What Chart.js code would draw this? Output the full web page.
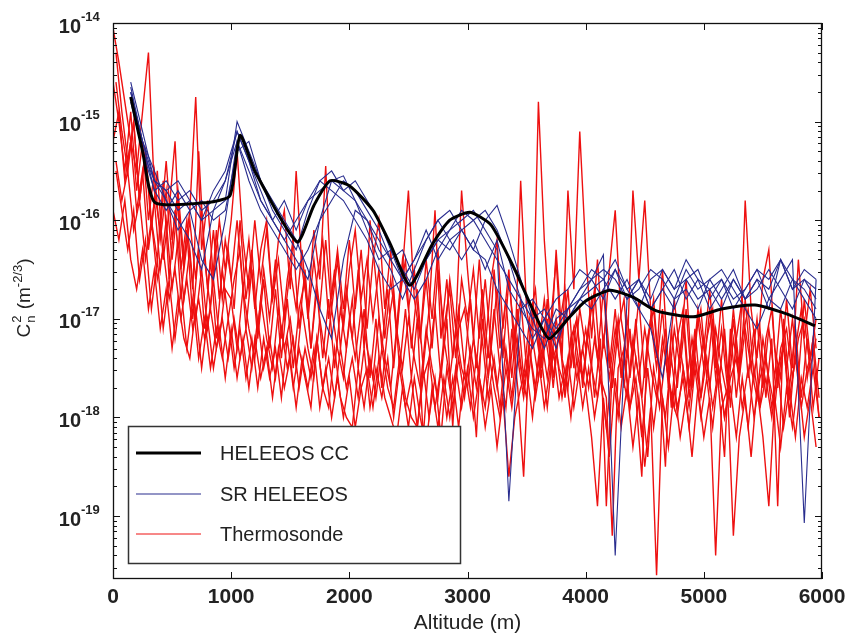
<!DOCTYPE html>
<html>
<head>
<meta charset="utf-8">
<script src="https://cdn.jsdelivr.net/npm/chart.js@4.4.1/dist/chart.umd.min.js"></script>
<style>
html, body { margin: 0; padding: 0; background: #fff; }
#wrap { width: 846px; height: 637px; }
</style>
</head>
<body>
<div id="wrap"><canvas id="cn2" width="846" height="637"></canvas></div>
<script>
// altitude grids (m)
var thermoAltA = [
  0,50,100,150,200,250,300,350,400,450,500,550,600,650,700,750,800,850,900,950,
  1000,1050,1100,1150,1200,1250,1300,1350,1400,1450,1500,1550,1600,1650,1700,1750,1800,1850,1900,1950,
  2000,2050,2100,2150,2200,2250,2300,2350,2400,2450,2500,2550,2600,2650,2700,2750,2800,2850,2900,2950,
  3000,3050,3100,3150,3200,3250,3300,3350,3400,3450,3500,3550,3600,3650,3700,3750,3800,3850,3900,3950,
  4000,4050,4100,4150,4200,4250,4300,4350,4400,4450,4500,4550,4600,4650,4700,4750,4800,4850,4900,4950,
  5000,5050,5100,5150,5200,5250,5300,5350,5400,5450,5500,5550,5600,5650,5700,5750,5800,5850,5900,5950
];
var thermoAltB = [
  25,75,125,175,225,275,325,375,425,475,525,575,625,675,725,775,825,875,925,975,
  1025,1075,1125,1175,1225,1275,1325,1375,1425,1475,1525,1575,1625,1675,1725,1775,1825,1875,1925,1975,
  2025,2075,2125,2175,2225,2275,2325,2375,2425,2475,2525,2575,2625,2675,2725,2775,2825,2875,2925,2975,
  3025,3075,3125,3175,3225,3275,3325,3375,3425,3475,3525,3575,3625,3675,3725,3775,3825,3875,3925,3975,
  4025,4075,4125,4175,4225,4275,4325,4375,4425,4475,4525,4575,4625,4675,4725,4775,4825,4875,4925,4975,
  5025,5075,5125,5175,5225,5275,5325,5375,5425,5475,5525,5575,5625,5675,5725,5775,5825,5875,5925,5975
];
var srAlt = [
  150,250,350,450,550,650,750,850,950,1050,
  1150,1250,1350,1450,1550,1650,1750,1850,1950,2050,
  2150,2250,2350,2450,2550,2650,2750,2850,2950,3050,
  3150,3250,3350,3450,3550,3650,3750,3850,3950,4050,
  4150,4250,4350,4450,4550,4650,4750,4850,4950,5050,
  5150,5250,5350,5450,5550,5650,5750,5850,5950
];
var ccAlt = [150,250,355,800,990,1075,1200,1557,1700,1836,2000,2200,2350,2513,2700,2850,3021,3200,3400,3550,3690,3850,4000,4206,4400,4600,4909,5150,5433,5700,5941];

// log10 of Cn2 (m^-2/3)
var ccLog = [-14.75,-15.3,-15.82,-15.82,-15.75,-15.14,-15.5,-16.22,-15.85,-15.6,-15.65,-15.9,-16.25,-16.66,-16.25,-16.0,-15.92,-16.05,-16.5,-16.9,-17.2,-17.0,-16.82,-16.71,-16.78,-16.92,-16.98,-16.9,-16.86,-16.95,-17.07];

var sr1 = [
  -14.6,-15.1,-15.6,-15.7,-15.9,-15.8,-16.0,-15.9,-15.8,-15.0,
  -15.3,-15.6,-15.9,-16.1,-16.3,-15.9,-15.6,-15.5,-15.7,-15.6,
  -15.8,-16.0,-16.3,-16.5,-16.7,-16.4,-16.2,-16.1,-16.0,-15.9,
  -16.1,-16.3,-18.85,-16.9,-16.8,-17.0,-17.2,-17.0,-16.8,-16.7,
  -16.6,-16.4,-16.7,-16.9,-16.6,-16.5,-16.7,-16.6,-16.8,-16.7,
  -16.6,-16.8,-16.7,-16.5,-16.6,-16.4,-16.7,-16.5,-16.6
];
var sr2 = [
  -14.7,-15.2,-15.5,-15.8,-16.0,-16.2,-16.5,-15.9,-15.6,-15.1,
  -15.4,-15.7,-16.0,-16.2,-16.4,-16.6,-16.0,-15.6,-15.7,-15.8,
  -16.0,-16.3,-16.5,-16.8,-16.5,-16.2,-16.0,-16.2,-16.1,-16.3,
  -16.0,-15.85,-16.2,-16.6,-17.0,-17.3,-17.0,-16.9,-16.7,-16.6,
  -16.35,-19.4,-16.8,-16.6,-16.9,-16.7,-16.5,-16.8,-16.6,-16.9,
  -16.7,-16.5,-16.8,-16.6,-16.9,-16.4,-16.7,-16.6,-16.8
];
var sr3 = [
  -14.65,-15.2,-15.7,-15.6,-15.8,-15.7,-15.9,-15.8,-15.6,-15.2,
  -15.5,-15.8,-16.0,-15.8,-16.1,-15.8,-15.7,-15.6,-15.55,-15.8,
  -16.1,-16.4,-16.3,-16.6,-16.4,-16.1,-16.4,-16.2,-16.4,-16.2,
  -16.5,-16.2,-16.7,-16.9,-17.1,-17.2,-16.9,-17.0,-16.8,-16.9,
  -16.7,-16.5,-16.8,-16.6,-16.9,-16.7,-16.9,-16.6,-16.5,-16.8,
  -16.6,-16.9,-16.7,-16.5,-16.8,-16.6,-16.4,-19.07,-16.6
];
var sr4 = [
  -14.8,-15.3,-15.7,-15.9,-15.7,-15.9,-15.8,-16.0,-15.9,-15.3,
  -15.2,-15.6,-15.8,-16.0,-16.2,-16.5,-16.9,-17.2,-16.4,-15.9,
  -16.0,-16.2,-16.4,-16.3,-16.6,-16.4,-16.2,-16.3,-16.1,-16.0,
  -15.9,-16.1,-16.4,-16.8,-17.2,-17.0,-17.3,-16.9,-16.7,-16.5,
  -16.6,-16.8,-16.6,-16.9,-17.1,-17.6,-16.8,-16.5,-16.7,-16.6,
  -16.8,-16.6,-16.8,-16.7,-16.5,-16.7,-16.9,-16.6,-16.7
];
var sr5 = [
  -14.7,-15.2,-15.6,-15.8,-16.1,-15.9,-16.4,-16.6,-16.0,-15.2,
  -15.6,-15.9,-16.1,-16.3,-16.5,-16.3,-16.0,-15.8,-15.6,-15.7,
  -15.9,-16.1,-16.4,-16.6,-16.8,-16.6,-16.3,-16.1,-15.9,-16.0,
  -16.2,-16.4,-16.6,-16.8,-17.0,-16.9,-17.1,-16.9,-16.8,-16.6,
  -16.5,-16.6,-16.8,-16.7,-16.5,-16.6,-16.8,-16.7,-16.9,-16.6,
  -16.5,-16.7,-16.9,-17.1,-16.8,-16.9,-16.6,-16.8,-17.0
];
var sr6 = [
  -14.75,-15.3,-15.6,-15.7,-15.6,-15.8,-16.0,-15.7,-15.5,-15.1,
  -15.4,-15.8,-16.0,-16.2,-16.0,-15.8,-15.6,-15.7,-15.8,-16.0,
  -16.2,-16.5,-16.7,-16.6,-16.4,-16.2,-16.0,-15.9,-16.1,-16.3,
  -16.4,-16.7,-16.9,-17.1,-17.3,-17.0,-16.8,-16.7,-16.5,-16.6,
  -16.8,-16.5,-16.7,-16.6,-16.8,-16.5,-16.7,-16.4,-16.6,-16.7,
  -16.9,-16.6,-16.8,-16.6,-16.7,-16.4,-16.6,-16.7,-16.9
];

// thermosonde profiles, odd ones on grid A, even ones on grid B
var thermo1 = [
  -14.05,-14.4,-14.8,-15.2,-15.5,-14.9,-14.3,-15.7,-16.1,-15.4,-16.2,-15.7,-16.4,-15.9,-14.75,-16.3,-15.8,-16.6,-16.0,-16.5,
  -16.0,-15.3,-16.2,-16.7,-16.0,-16.6,-16.1,-16.8,-16.2,-15.9,-16.7,-15.5,-16.5,-16.9,-16.1,-16.6,-15.45,-16.8,-16.3,-16.9,
  -16.2,-16.9,-16.3,-17.1,-16.4,-16.0,-16.9,-16.3,-17.2,-16.5,-15.7,-16.8,-17.2,-16.4,-17.0,-16.3,-17.3,-16.6,-17.1,-15.7,
  -16.5,-17.2,-16.4,-17.3,-16.6,-16.2,-17.1,-16.5,-17.4,-15.6,-16.9,-17.3,-14.8,-16.2,-17.1,-16.4,-17.4,-15.7,-16.7,-15.1,
  -16.3,-17.2,-16.4,-17.3,-16.5,-15.9,-17.0,-17.4,-15.7,-16.6,-15.8,-16.9,-17.4,-16.5,-17.5,-16.8,-17.4,-16.6,-17.6,-16.9,
  -17.3,-16.7,-17.5,-16.8,-17.6,-16.9,-17.5,-15.8,-16.9,-17.4,-16.6,-16.3,-17.3,-17.6,-16.8,-17.5,-16.4,-17.2,-16.7,-17.3
];
var thermo2 = [
  -14.3,-14.9,-15.4,-15.0,-15.8,-15.3,-16.1,-15.5,-16.4,-15.9,-15.2,-16.5,-16.0,-16.7,-15.3,-16.4,-16.9,-16.1,-16.8,-16.3,
  -16.9,-16.0,-16.8,-16.3,-17.1,-16.5,-17.0,-16.4,-17.2,-16.6,-16.2,-17.1,-16.5,-17.3,-16.6,-16.2,-17.0,-16.5,-17.3,-16.7,
  -17.2,-16.5,-17.3,-16.0,-16.6,-17.3,-16.7,-17.5,-16.8,-16.4,-17.3,-16.7,-17.5,-16.9,-15.9,-17.2,-16.6,-17.4,-16.9,-17.5,
  -16.8,-17.5,-16.7,-17.4,-16.5,-17.3,-16.8,-17.6,-16.9,-17.6,-17.0,-16.7,-17.5,-16.8,-17.6,-17.1,-16.7,-17.5,-17.0,-17.7,
  -17.1,-16.7,-17.5,-17.0,-17.7,-17.1,-16.8,-17.6,-17.0,-17.8,-17.2,-16.8,-17.6,-17.1,-17.9,-17.2,-16.9,-17.7,-17.1,-17.8,
  -17.2,-16.9,-17.7,-17.1,-17.9,-17.2,-16.8,-17.6,-17.1,-17.9,-17.2,-16.9,-17.7,-17.2,-18.0,-17.3,-16.9,-17.6,-17.2,-17.8
];
var thermo3 = [
  -15.9,-16.2,-15.8,-16.4,-16.7,-16.3,-16.9,-16.5,-17.1,-16.7,-17.3,-16.8,-17.2,-17.4,-16.9,-17.5,-17.0,-17.5,-17.1,-17.6,
  -17.1,-17.6,-17.2,-17.7,-17.2,-17.6,-17.3,-17.8,-17.3,-17.7,-17.4,-17.9,-17.4,-17.7,-17.3,-17.9,-17.5,-18.0,-17.6,-18.0,
  -17.6,-18.1,-17.7,-17.5,-17.9,-17.4,-17.8,-18.0,-18.2,-17.7,-18.1,-17.6,-18.0,-18.3,-17.7,-18.1,-17.6,-18.0,-17.5,-17.9,
  -17.5,-18.0,-17.6,-18.1,-17.7,-18.3,-17.8,-18.6,-18.0,-17.7,-17.5,-18.0,-17.4,-17.9,-17.5,-17.3,-17.8,-17.4,-17.9,-17.5,
  -17.7,-18.2,-18.9,-17.8,-18.4,-17.6,-18.1,-17.7,-18.3,-17.8,-18.5,-17.9,-19.6,-17.8,-18.3,-17.7,-18.2,-17.8,-18.4,-17.7,
  -18.2,-17.8,-19.4,-17.9,-17.7,-19.2,-18.2,-17.8,-18.4,-17.7,-18.2,-18.9,-17.8,-18.3,-17.7,-18.1,-17.6,-18.2,-17.8,-18.3
];
var thermo4 = [
  -15.5,-15.9,-16.3,-15.9,-16.6,-16.2,-16.9,-16.4,-17.1,-16.6,-17.2,-16.7,-17.3,-16.8,-17.4,-17.0,-17.5,-17.1,-17.4,-17.0,
  -17.5,-17.1,-17.6,-17.2,-17.7,-17.2,-17.6,-17.3,-17.8,-17.2,-17.7,-17.3,-17.6,-17.9,-17.2,-17.7,-17.9,-17.3,-17.8,-18.0,
  -18.1,-17.5,-17.9,-17.4,-17.8,-17.3,-17.7,-17.9,-17.4,-17.8,-18.0,-18.1,-17.6,-17.4,-17.9,-17.5,-18.0,-17.6,-18.1,-17.5,
  -17.9,-17.4,-17.8,-17.3,-17.7,-18.0,-17.5,-17.9,-17.4,-17.8,-17.3,-17.7,-17.2,-17.6,-17.1,-17.5,-17.7,-17.2,-17.6,-17.3,
  -17.7,-17.2,-17.6,-17.8,-19.2,-17.5,-17.3,-17.9,-17.4,-17.8,-18.4,-17.5,-17.9,-17.4,-17.8,-18.0,-17.5,-17.9,-17.4,-17.8,
  -17.4,-17.9,-17.5,-18.0,-17.6,-17.4,-17.9,-17.5,-18.0,-17.6,-17.4,-17.9,-17.5,-17.3,-17.8,-17.4,-17.9,-17.5,-17.3,-18.0
];
var thermo5 = [
  -15.2,-14.9,-15.6,-15.2,-15.9,-15.5,-16.3,-15.8,-16.5,-16.0,-16.7,-16.2,-16.8,-16.3,-17.0,-16.5,-17.1,-16.6,-17.2,-16.7,
  -16.8,-17.3,-16.7,-17.1,-17.4,-16.8,-17.2,-17.5,-16.9,-17.3,-17.0,-17.5,-16.9,-17.3,-17.6,-17.0,-17.4,-16.9,-17.3,-17.6,
  -17.0,-17.4,-16.9,-17.3,-17.6,-17.0,-17.4,-17.7,-17.1,-17.5,-17.0,-17.4,-17.7,-17.1,-17.5,-17.8,-17.2,-17.6,-17.1,-17.5,
  -17.7,-17.2,-17.6,-17.9,-17.3,-17.7,-17.2,-17.6,-17.1,-17.5,-17.8,-17.2,-17.6,-17.1,-17.5,-17.0,-17.4,-17.7,-17.1,-17.5,
  -17.1,-17.5,-17.8,-17.2,-17.6,-17.1,-17.5,-17.8,-17.2,-17.6,-17.1,-17.5,-17.8,-17.2,-17.6,-17.9,-17.3,-17.7,-17.2,-17.6,
  -17.2,-17.7,-17.1,-17.5,-17.8,-17.2,-17.6,-17.1,-17.5,-17.8,-17.2,-17.6,-17.9,-17.3,-17.1,-17.6,-17.2,-17.0,-17.5,-17.2
];
var thermo6 = [
  -14.6,-15.1,-15.5,-15.0,-15.8,-15.3,-16.0,-16.4,-15.6,-16.6,-15.9,-16.8,-16.1,-17.0,-16.3,-17.1,-16.4,-17.2,-16.5,-17.0,
  -16.6,-16.3,-17.1,-16.5,-17.2,-16.6,-17.3,-16.7,-17.4,-16.8,-17.5,-16.9,-16.6,-17.3,-16.7,-17.4,-16.8,-17.5,-16.9,-17.3,
  -16.8,-17.5,-16.9,-17.6,-17.0,-17.7,-17.1,-16.7,-17.5,-16.9,-17.6,-17.0,-18.2,-17.4,-16.9,-17.6,-17.0,-18.1,-17.1,-16.9,
  -17.4,-18.2,-17.0,-17.6,-16.9,-17.5,-17.9,-17.1,-17.7,-18.6,-17.2,-16.9,-17.6,-17.0,-17.7,-17.1,-17.8,-17.2,-17.0,-17.6,
  -17.1,-17.8,-17.2,-18.9,-17.5,-17.0,-17.7,-17.1,-17.8,-18.6,-17.2,-16.9,-17.6,-18.5,-17.1,-17.7,-17.0,-17.8,-17.2,-16.9,
  -17.6,-17.0,-17.7,-18.4,-17.1,-17.8,-17.2,-16.9,-17.6,-17.1,-17.8,-17.2,-18.9,-17.0,-17.7,-17.1,-17.8,-17.2,-17.9,-17.4
];
var thermo7 = [
  -14.6,-15.0,-15.5,-14.9,-15.7,-15.2,-16.0,-15.5,-16.2,-15.7,-16.4,-15.8,-16.5,-16.0,-16.6,-15.9,-16.7,-16.1,-16.8,-16.2,
  -16.6,-16.0,-16.7,-16.2,-16.9,-16.3,-16.0,-16.8,-16.4,-17.0,-16.5,-16.9,-16.3,-17.0,-16.4,-16.9,-16.2,-16.9,-16.4,-17.1,
  -16.5,-16.1,-16.8,-16.4,-17.0,-16.5,-17.2,-16.6,-17.1,-16.4,-16.9,-16.5,-17.2,-16.6,-17.3,-16.5,-17.1,-16.7,-17.4,-16.6,
  -17.0,-16.5,-17.2,-16.6,-17.3,-16.7,-17.4,-16.6,-17.2,-16.8,-17.5,-16.9,-17.3,-16.8,-17.4,-16.3,-17.2,-16.7,-17.5,-16.9,
  -17.3,-16.8,-17.4,-16.7,-17.5,-16.9,-17.6,-17.0,-17.4,-16.8,-17.6,-17.0,-17.5,-16.9,-17.7,-17.1,-17.5,-16.9,-17.7,-17.0,
  -17.5,-16.9,-17.6,-17.1,-17.7,-17.0,-17.6,-16.8,-17.5,-17.0,-17.7,-17.1,-17.6,-16.9,-17.5,-17.0,-17.6,-16.8,-17.4,-17.0
];
var thermo8 = [
  -15.4,-15.8,-15.5,-16.1,-15.8,-16.4,-16.0,-16.6,-16.3,-16.8,-16.5,-17.0,-16.6,-17.1,-16.8,-17.2,-16.9,-17.3,-17.0,-17.4,
  -17.0,-17.4,-17.1,-17.5,-17.0,-17.5,-17.2,-17.6,-17.1,-17.5,-17.2,-17.7,-17.3,-17.6,-17.2,-17.7,-17.4,-17.8,-17.3,-17.7,
  -17.4,-17.8,-17.3,-17.9,-17.5,-17.8,-17.4,-18.0,-17.5,-17.9,-17.6,-18.1,-17.5,-18.0,-17.6,-18.2,-17.5,-17.9,-17.4,-17.8,
  -17.3,-17.7,-17.2,-17.8,-17.4,-17.9,-17.3,-17.8,-17.2,-17.7,-17.3,-17.8,-17.4,-17.9,-17.3,-17.8,-17.5,-18.0,-17.4,-17.9,
  -17.5,-18.0,-17.6,-18.1,-17.5,-18.0,-17.4,-17.9,-17.6,-18.2,-17.5,-18.1,-17.6,-18.0,-17.4,-17.9,-17.6,-18.1,-17.5,-18.0,
  -17.6,-18.1,-17.5,-18.0,-17.7,-18.2,-17.6,-18.1,-17.5,-17.9,-17.6,-18.0,-17.5,-18.1,-17.7,-18.2,-17.6,-17.9,-17.5,-18.0
];

var xTickValues = [0, 1000, 2000, 3000, 4000, 5000, 6000];
var yTickExps = [-14, -15, -16, -17, -18, -19];
var legendNames = ['HELEEOS CC', 'SR HELEEOS', 'Thermosonde'];
var xTitle = 'Altitude (m)';

var RED = 'rgb(238,16,16)';
var BLUE = '#282c8e';
var BLACK = '#000000';

function toPoints(alts, logs) {
    var pts = [];
    for (var i = 0; i < alts.length; i++) {
        pts.push({x: alts[i], y: Math.pow(10, logs[i])});
    }
    return pts;
}

var datasets = [];
datasets.push({label: legendNames[0], data: toPoints(ccAlt, ccLog), borderColor: BLACK, borderWidth: 3, tension: 0.2, order: 0});
[sr1, sr2, sr3, sr4, sr5, sr6].forEach(function(s) {
    datasets.push({label: legendNames[1], data: toPoints(srAlt, s), borderColor: BLUE, borderWidth: 1.1, order: 1});
});
[thermo1, thermo2, thermo3, thermo4, thermo5, thermo6, thermo7, thermo8].forEach(function(s, k) {
    var alts = (k % 2 === 0) ? thermoAltA : thermoAltB;
    datasets.push({label: legendNames[2], data: toPoints(alts, s), borderColor: RED, borderWidth: 1.4, order: 2});
});

var sans = '"Liberation Sans", Arial, sans-serif';

// matlab-like box, inward ticks, tick labels, axis titles and legend
var matlabAxes = {
    id: 'matlabAxes',
    afterDatasetsDraw: function(chart) {
        var ctx = chart.ctx, a = chart.chartArea;
        var x = chart.scales.x, y = chart.scales.y;
        ctx.save();
        ctx.strokeStyle = '#111';
        ctx.lineWidth = 1.3;
        ctx.strokeRect(a.left + 0.5, a.top + 0.5, a.right - a.left - 1, a.bottom - a.top - 1);
        ctx.lineWidth = 1;
        ctx.beginPath();
        xTickValues.forEach(function(v) {
            var px = Math.round(x.getPixelForValue(v)) + 0.5;
            ctx.moveTo(px, a.bottom); ctx.lineTo(px, a.bottom - 7);
            ctx.moveTo(px, a.top); ctx.lineTo(px, a.top + 7);
        });
        for (var e = -20; e <= -14; e++) {
            for (var m = 1; m <= 9; m++) {
                var v = m * Math.pow(10, e);
                if (v < y.min * 0.999 || v > y.max * 1.001) continue;
                var py = Math.round(y.getPixelForValue(v)) + 0.5;
                var len = m === 1 ? 7 : 4;
                ctx.moveTo(a.left, py); ctx.lineTo(a.left + len, py);
                ctx.moveTo(a.right, py); ctx.lineTo(a.right - len, py);
            }
        }
        ctx.stroke();

        ctx.fillStyle = '#222';
        // x tick labels
        ctx.font = 'bold 21px ' + sans;
        ctx.textAlign = 'center';
        ctx.textBaseline = 'middle';
        xTickValues.forEach(function(v) {
            ctx.fillText(String(v), x.getPixelForValue(v), 597);
        });
        // x title
        ctx.font = '21px ' + sans;
        ctx.fillText(xTitle, (a.left + a.right) / 2, 623);

        // y tick labels 10^n
        yTickExps.forEach(function(n) {
            var py = y.getPixelForValue(Math.pow(10, n));
            ctx.font = 'bold 20px ' + sans;
            ctx.textAlign = 'right';
            ctx.textBaseline = 'middle';
            ctx.fillText('10', 81, py + 4);
            ctx.font = 'bold 13px ' + sans;
            ctx.textAlign = 'left';
            ctx.fillText('-' + Math.abs(n), 81, py - 6);
        });

        // y axis title  C_n^2 (m^-2/3)
        ctx.save();
        ctx.translate(30, 298);
        ctx.rotate(-Math.PI / 2);
        ctx.textBaseline = 'alphabetic';
        ctx.textAlign = 'left';
        var big = '19px ' + sans, small = '13px ' + sans;
        ctx.font = big; var wC = ctx.measureText('C').width;
        ctx.font = small; var w2 = ctx.measureText('n').width;
        ctx.font = big; var wM = ctx.measureText(' (m').width;
        ctx.font = small; var wE = ctx.measureText('-2/3').width;
        ctx.font = big; var wP = ctx.measureText(')').width;
        var total = wC + w2 + 2 + wM + wE + wP;
        var cx = -total / 2;
        ctx.font = big; ctx.fillText('C', cx, 0); cx += wC;
        ctx.font = small; ctx.fillText('2', cx + 1, -9); ctx.fillText('n', cx + 1, 5); cx += w2 + 2;
        ctx.font = big; ctx.fillText(' (m', cx, 0); cx += wM;
        ctx.font = small; ctx.fillText('-2/3', cx, -8); cx += wE;
        ctx.font = big; ctx.fillText(')', cx, 0);
        ctx.restore();

        // legend box
        var lx = 128.5, ly = 426.5, lw = 332, lh = 137;
        ctx.fillStyle = '#fff';
        ctx.fillRect(lx, ly, lw, lh);
        ctx.strokeStyle = '#333';
        ctx.lineWidth = 1.5;
        ctx.strokeRect(lx, ly, lw, lh);
        var seen = {}, row = 0, rowsY = [453, 494, 534];
        chart.data.datasets.forEach(function(ds) {
            if (seen[ds.label]) return;
            seen[ds.label] = true;
            var ry = rowsY[row++];
            ctx.beginPath();
            ctx.strokeStyle = ds.borderColor;
            ctx.lineWidth = Math.min(ds.borderWidth, 3);
            if (ds.label === legendNames[2]) ctx.lineWidth = 1;
            ctx.moveTo(136, ry); ctx.lineTo(201, ry);
            ctx.stroke();
            ctx.fillStyle = '#222';
            ctx.font = '20px ' + sans;
            ctx.textAlign = 'left';
            ctx.textBaseline = 'middle';
            ctx.fillText(ds.label, 220, ry + 1);
        });
        ctx.restore();
    }
};

new Chart(document.getElementById('cn2').getContext('2d'), {
    type: 'line',
    data: {datasets: datasets},
    options: {
        responsive: false,
        animation: false,
        devicePixelRatio: 1,
        elements: {point: {radius: 0}, line: {tension: 0}},
        layout: {padding: {top: 23, right: 24, left: 0, bottom: 0}},
        plugins: {legend: {display: false}, tooltip: {enabled: false}},
        scales: {
            x: {
                type: 'linear', min: 0, max: 6000,
                ticks: {display: false, stepSize: 1000},
                grid: {display: false, drawTicks: false},
                border: {display: false},
                afterFit: function(s) { s.height = 58; }
            },
            y: {
                type: 'logarithmic', min: 2.3e-20, max: 1e-14,
                ticks: {display: false},
                grid: {display: false, drawTicks: false},
                border: {display: false},
                afterFit: function(s) { s.width = 113; }
            }
        }
    },
    plugins: [matlabAxes]
});
</script>
</body>
</html>
